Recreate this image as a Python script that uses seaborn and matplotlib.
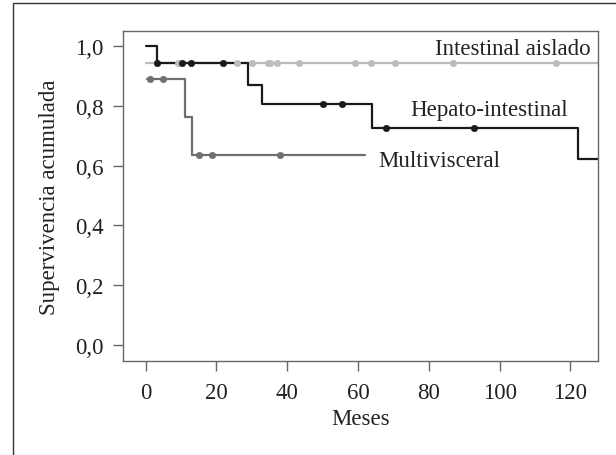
import pandas as pd
import matplotlib.pyplot as plt
import seaborn as sns
from matplotlib.patches import Rectangle

# Kaplan-Meier step curves (time in months, cumulative survival)
hepato_t = [0.1, 3.3, 29.0, 33.0, 63.9, 122.1, 130.0]
hepato_s = [1.0, 0.944, 0.871, 0.806, 0.727, 0.622, 0.622]
hepato_cens_t = [3.3, 10.4, 12.8, 21.8, 50.0, 55.4, 67.9, 92.8]
hepato_cens_s = [0.944, 0.944, 0.944, 0.944, 0.806, 0.806, 0.727, 0.727]

intest_t = [0.1, 130.0]
intest_s = [0.944, 0.944]
intest_cens_t = [9.2, 25.7, 30.0, 34.7, 35.2, 37.0, 43.4, 59.2, 63.6, 70.5, 86.9, 116.0]
intest_cens_s = [0.944] * len(intest_cens_t)

multi_t = [0.5, 11.1, 13.0, 62.0]
multi_s = [0.889, 0.762, 0.635, 0.635]
multi_cens_t = [1.2, 5.0, 15.0, 18.7, 38.0]
multi_cens_s = [0.889, 0.889, 0.635, 0.635, 0.635]

x_ticks = [0, 20, 40, 60, 80, 100, 120]
y_ticks = [0.0, 0.2, 0.4, 0.6, 0.8, 1.0]
y_tick_labels = ['0,0', '0,2', '0,4', '0,6', '0,8', '1,0']

sns.set_style('ticks')
plt.rcParams['font.family'] = ['Liberation Serif', 'DejaVu Serif']

fig = plt.figure(figsize=(6.16, 4.56), dpi=100)
ax = fig.add_axes([123 / 616, 1 - 362 / 456, (598 - 123) / 616, (362 - 32) / 456])

light, mid, dark = '#bcbcbc', '#6f6f6f', '#1a1a1a'
fs = 16.5

# lines
sns.lineplot(x=intest_t, y=intest_s, ax=ax, color=light, lw=1.6, drawstyle='steps-post')
sns.lineplot(x=multi_t, y=multi_s, ax=ax, color=mid, lw=1.6, drawstyle='steps-post')
sns.lineplot(x=hepato_t, y=hepato_s, ax=ax, color=dark, lw=1.6, drawstyle='steps-post')

# censored marks
sns.scatterplot(x=intest_cens_t, y=intest_cens_s, ax=ax, color=light, s=22, edgecolor=None, zorder=3)
sns.scatterplot(x=multi_cens_t, y=multi_cens_s, ax=ax, color=mid, s=22, edgecolor=None, zorder=3)
sns.scatterplot(x=hepato_cens_t, y=hepato_cens_s, ax=ax, color=dark, s=22, edgecolor=None, zorder=4)

# curve labels
ax.text(125.6, 0.974, 'Intestinal aislado', ha='right', va='baseline', fontsize=fs, color='#222222')
ax.text(74.7, 0.770, 'Hepato-intestinal', ha='left', va='baseline', fontsize=fs, color='#222222')
ax.text(65.7, 0.600, 'Multivisceral', ha='left', va='baseline', fontsize=fs, color='#222222')

ax.set_xlim(-6.4, 127.8)
ax.set_ylim(-0.054, 1.051)
ax.set_xticks(x_ticks)
ax.set_yticks(y_ticks)
ax.set_yticklabels(y_tick_labels)
ax.tick_params(axis='both', labelsize=fs, length=7, width=1, color='#666666',
               labelcolor='#222222')
ax.tick_params(axis='x', pad=8)
ax.tick_params(axis='y', pad=7)
for sp in ax.spines.values():
    sp.set_visible(True)
    sp.set_color('#666666')
    sp.set_linewidth(1.0)

ax.set_xlabel('Meses', fontsize=fs, color='#222222', labelpad=4)
ax.set_ylabel('Supervivencia acumulada', fontsize=fs, color='#222222', labelpad=11)

# outer frame of the figure
fig.patches.append(Rectangle((13 / 616, -0.05), 1.2, (456 - 4) / 456 + 0.05,
                             transform=fig.transFigure, fill=False,
                             edgecolor='#333333', lw=1.0))

fig.savefig('out.png', dpi=100)
